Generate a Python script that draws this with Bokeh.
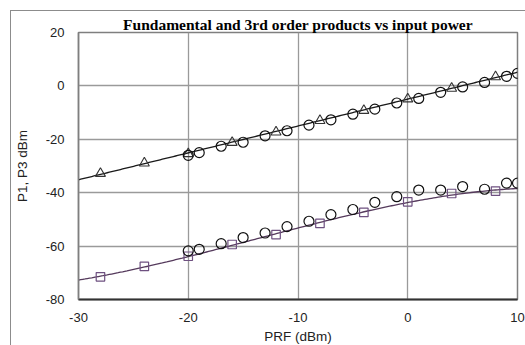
import numpy as np
from bokeh.plotting import figure
from bokeh.models import FixedTicker, Range1d, CustomJSTickFormatter
from bokeh.embed import file_html
from bokeh.resources import INLINE

# Fundamental (P1)
p1_tri_x = [-28, -24, -20, -16, -12, -8, -4, 0, 4, 8]
p1_tri_y = [-32.8, -28.9, -25.4, -21.2, -17.3, -13.0, -9.2, -4.9, -0.9, 3.4]
p1_circ_x = [-20, -19, -17, -15, -13, -11, -9, -7, -5, -3, -1, 1, 3, 5, 7, 9, 10]
p1_circ_y = [-26.0, -25.0, -22.6, -21.1, -18.7, -16.8, -14.7, -12.7, -10.6, -8.7,
             -6.4, -4.7, -2.4, -0.4, 1.3, 3.6, 4.7]

# Third order (P3)
p3_sq_x = [-28, -24, -20, -16, -12, -8, -4, 0, 4, 8]
p3_sq_y = [-71.5, -67.6, -63.8, -59.4, -55.7, -51.5, -47.4, -43.4, -40.3, -39.4]
p3_circ_x = [-20, -19, -17, -15, -13, -11, -9, -7, -5, -3, -1, 1, 3, 5, 7, 9, 10]
p3_circ_y = [-61.8, -61.2, -59.1, -56.8, -55.1, -52.7, -50.7, -48.2, -46.3, -43.6,
             -41.5, -39.0, -39.0, -37.7, -38.7, -36.4, -36.4]

x_ticks = [-30, -20, -10, 0, 10]
y_ticks = [-80, -60, -40, -20, 0, 20]

title = "Fundamental and 3rd order products vs input power"
x_label = "PRF (dBm)"
y_label = "P1, P3 dBm"

# model curves fitted to the simulated points
xs = np.linspace(-30, 10, 200)
p1_fit = np.polyval(np.polyfit(p1_tri_x, p1_tri_y, 1), xs)
p3_fit = np.polyval(np.polyfit(p3_sq_x, p3_sq_y, 3), xs)

p = figure(width=515, height=335, output_backend="svg", toolbar_location=None,
           x_range=Range1d(-30, 10), y_range=Range1d(-80, 20),
           min_border_left=65, min_border_right=9, min_border_top=21,
           min_border_bottom=47, margin=(10, 0, 0, 10),
           styles={"border-left": "1.5px solid #8c8c8c", "border-top": "1.5px solid #8c8c8c"},
           title=title)

p.title.text_font = "Liberation Serif"
p.title.text_font_style = "bold"
p.title.text_font_size = "15.5px"
p.title.align = "center"
p.title.standoff = 0
p.title.offset = 0
p.title.text_color = "black"

p.outline_line_color = "#7f7f7f"
p.outline_line_width = 1.5
p.background_fill_color = "white"
p.border_fill_color = "white"

for g in (p.xgrid, p.ygrid):
    g.grid_line_color = "#9a9a9a"
    g.grid_line_width = 1.3
p.xgrid.ticker = FixedTicker(ticks=x_ticks)
p.ygrid.ticker = FixedTicker(ticks=y_ticks)

fmt = "return tick.toString();"
p.xaxis.ticker = FixedTicker(ticks=x_ticks)
p.yaxis.ticker = FixedTicker(ticks=y_ticks)
p.xaxis.formatter = CustomJSTickFormatter(code=fmt)
p.yaxis.formatter = CustomJSTickFormatter(code=fmt)
for ax in (p.xaxis, p.yaxis):
    ax.major_tick_line_color = None
    ax.minor_tick_line_color = None
    ax.major_tick_out = 0
    ax.major_tick_in = 0
    ax.major_label_text_font = "Liberation Sans"
    ax.major_label_text_font_size = "13px"
    ax.major_label_text_color = "#222222"
    ax.axis_label_text_font = "Liberation Sans"
    ax.axis_label_text_font_size = "13.5px"
    ax.axis_label_text_font_style = "normal"
    ax.axis_label_text_color = "#222222"
p.xaxis.axis_line_color = "#333333"
p.xaxis.axis_line_width = 2
p.yaxis.axis_line_color = "#7f7f7f"
p.yaxis.axis_line_width = 1.5
p.xaxis.major_label_standoff = 13
p.yaxis.major_label_standoff = 14
p.xaxis.axis_label_standoff = 4
p.yaxis.axis_label_standoff = 13
p.xaxis.axis_label = x_label
p.yaxis.axis_label = y_label

p.line(xs, p1_fit, line_color="#1a1a1a", line_width=1.3)
p.line(xs, p3_fit, line_color="#553a5c", line_width=1.3)

p.scatter(p1_tri_x, p1_tri_y, marker="triangle", size=10, fill_color=None,
          line_color="#333333", line_width=1.1)
p.scatter(p1_circ_x, p1_circ_y, marker="circle", size=10, fill_color=None,
          line_color="#111111", line_width=1.2)
p.scatter(p3_sq_x, p3_sq_y, marker="square", size=8.5, fill_color=None,
          line_color="#6e5080", line_width=1.2)
p.scatter(p3_circ_x, p3_circ_y, marker="circle", size=10, fill_color=None,
          line_color="#111111", line_width=1.2)

open("out.html", "w").write(file_html(p, INLINE))
